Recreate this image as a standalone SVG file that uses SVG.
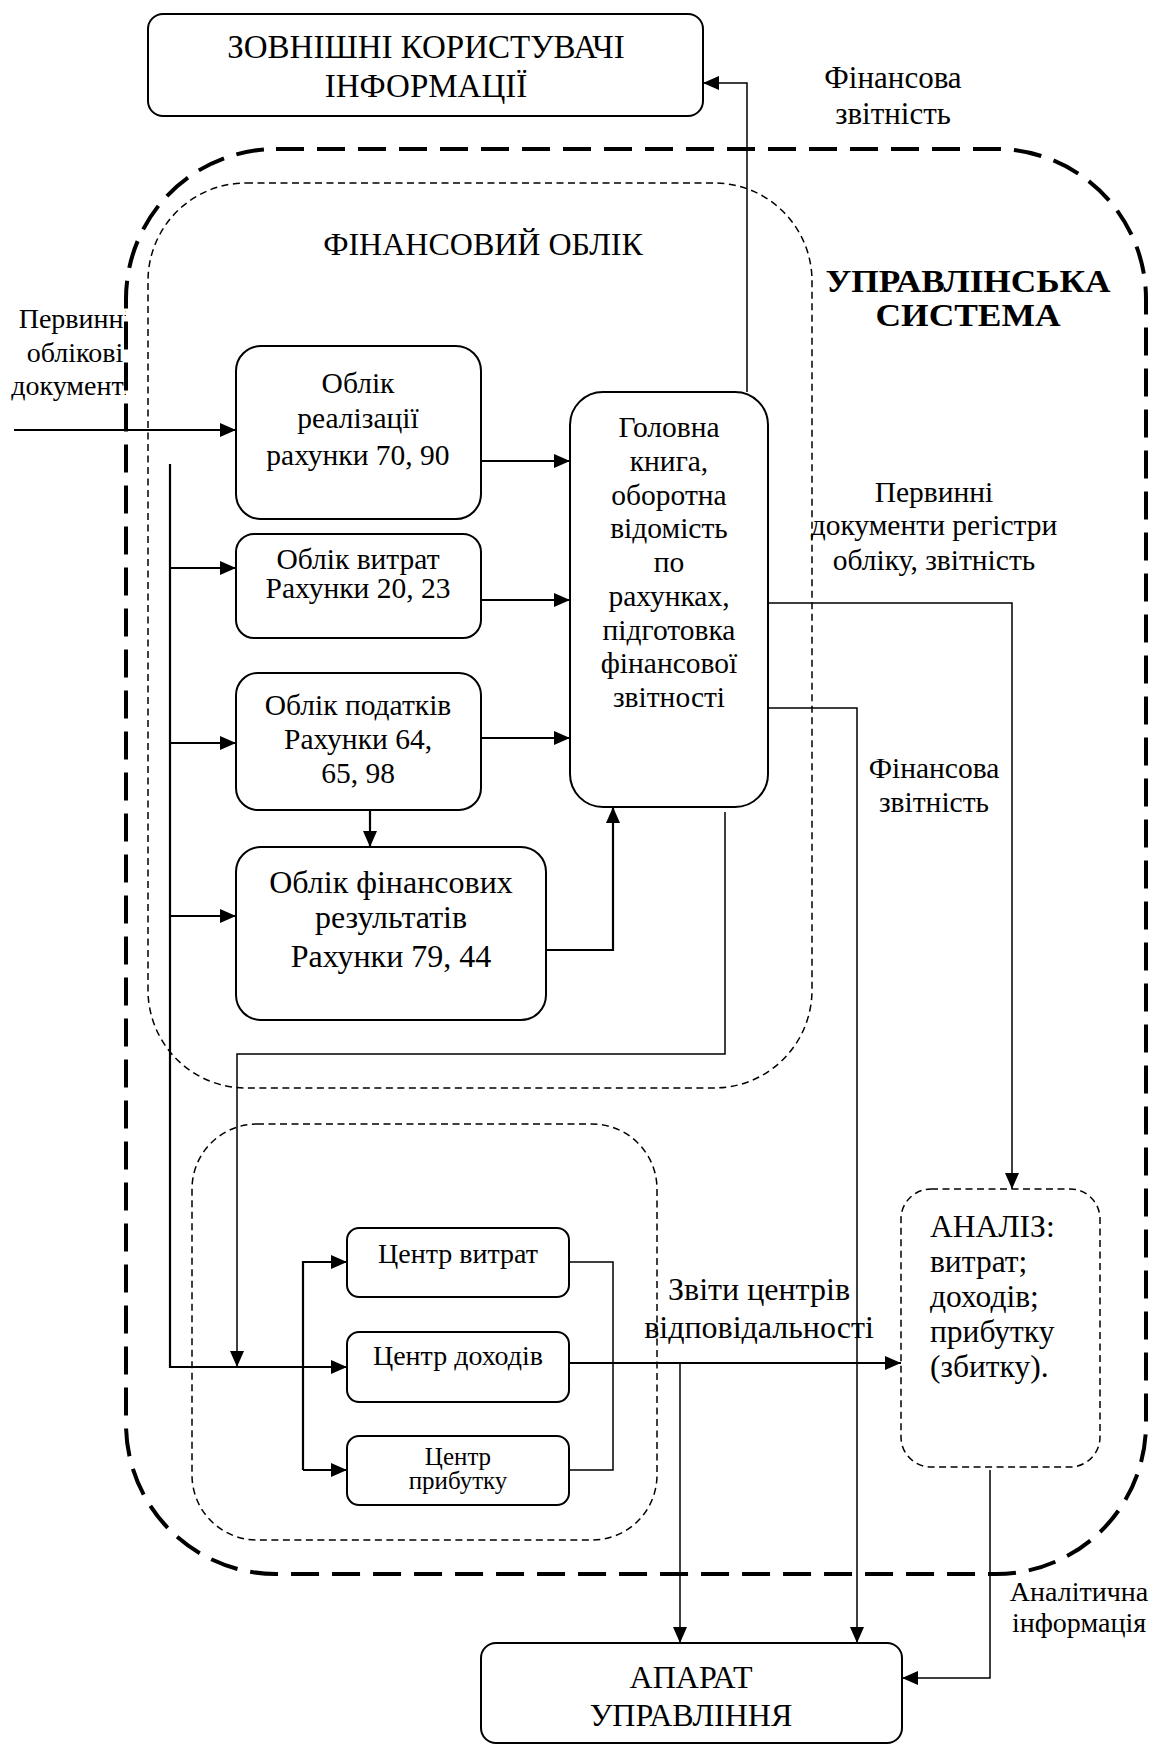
<svg xmlns="http://www.w3.org/2000/svg" width="1154" height="1745" viewBox="0 0 1154 1745">
<defs>
<marker id="ah" markerUnits="userSpaceOnUse" markerWidth="16" markerHeight="14" viewBox="0 0 16 14" refX="16" refY="7" orient="auto">
<path d="M0,0 L16,7 L0,14 z" fill="#000"/>
</marker>
<clipPath id="clipLeft"><rect x="0" y="290" width="126" height="120"/></clipPath>
<style>
text{font-family:"Liberation Serif","Times New Roman",serif;fill:#000;text-anchor:middle}
.box{fill:#fff;stroke:#000;stroke-width:2}
.big{fill:none;stroke:#000;stroke-width:4;stroke-dasharray:28 13}
.dot{fill:none;stroke:#000;stroke-width:1.5;stroke-dasharray:7 4.5}
.c{fill:none;stroke:#000;stroke-width:2.2}
.t{fill:none;stroke:#000;stroke-width:1.5}
.f28{font-size:28px}
.f29{font-size:29.5px}
.f31{font-size:31px}
.left{text-anchor:start}
</style>
</defs>
<rect width="1154" height="1745" fill="#fff"/>

<g id="containers">
<rect class="big" x="126" y="149" width="1020" height="1425" rx="150"/>
<rect class="dot" x="148" y="183" width="664" height="905" rx="98"/>
<rect class="dot" x="192" y="1124" width="465" height="416" rx="65"/>
</g>

<g id="connectors">
<path class="t" d="M747,392 V83 H703" marker-end="url(#ah)"/>
<path class="c" d="M14,430 H236" marker-end="url(#ah)"/>
<path class="c" d="M481,461 H570" marker-end="url(#ah)"/>
<path class="c" d="M481,600 H570" marker-end="url(#ah)"/>
<path class="c" d="M481,738 H570" marker-end="url(#ah)"/>
<path class="c" d="M370,810 V847" marker-end="url(#ah)"/>
<path class="c" d="M546,950 H613 V807" marker-end="url(#ah)"/>
<path class="c" d="M170,464 V1367 H347" marker-end="url(#ah)"/>
<path class="c" d="M170,568 H236" marker-end="url(#ah)"/>
<path class="c" d="M170,743 H236" marker-end="url(#ah)"/>
<path class="c" d="M170,916 H236" marker-end="url(#ah)"/>
<path class="t" d="M725,812 V1054 H237 V1367" marker-end="url(#ah)"/>
<path class="c" d="M303,1470 V1262 H347" marker-end="url(#ah)"/>
<path class="c" d="M303,1470 H347" marker-end="url(#ah)"/>
<path class="t" d="M569,1262 H613 V1470 H569"/>
<path class="c" d="M569,1363 H901" marker-end="url(#ah)"/>
<path class="t" d="M680,1363 V1643" marker-end="url(#ah)"/>
<path class="t" d="M768,603 H1012 V1189" marker-end="url(#ah)"/>
<path class="t" d="M768,708 H857 V1643" marker-end="url(#ah)"/>
<path class="t" d="M990,1470 V1678 H902" marker-end="url(#ah)"/>
</g>

<g id="external-users">
<rect class="box" x="148" y="14" width="555" height="102" rx="15"/>
<text x="426" y="58" font-size="33">ЗОВНІШНІ КОРИСТУВАЧІ</text>
<text x="426" y="97" font-size="33">ІНФОРМАЦІЇ</text>
</g>

<g id="label-fin-report-top">
<text class="f31" x="893" y="88">Фінансова</text>
<text class="f31" x="893" y="124">звітність</text>
</g>

<g id="label-fin-accounting">
<text x="483" y="255" font-size="32">ФІНАНСОВИЙ ОБЛІК</text>
</g>

<g id="label-mgmt-system">
<text x="968" y="292" font-size="32" font-weight="bold" textLength="285" lengthAdjust="spacingAndGlyphs">УПРАВЛІНСЬКА</text>
<text x="968" y="326" font-size="32" font-weight="bold" textLength="185" lengthAdjust="spacingAndGlyphs">СИСТЕМА</text>
</g>

<g id="label-primary-docs" clip-path="url(#clipLeft)">
<text class="f28" x="75" y="328">Первинні</text>
<text class="f28" x="75" y="362">облікові</text>
<text class="f28" x="75" y="395">документи</text>
</g>

<g id="sales">
<rect class="box" x="236" y="346" width="245" height="173" rx="25"/>
<text class="f29" x="358" y="393">Облік</text>
<text class="f29" x="358" y="428">реалізації</text>
<text class="f29" x="358" y="465">рахунки 70, 90</text>
</g>

<g id="costs">
<rect class="box" x="236" y="534" width="245" height="104" rx="18"/>
<text class="f29" x="358" y="569">Облік витрат</text>
<text class="f29" x="358" y="598">Рахунки 20, 23</text>
</g>

<g id="taxes">
<rect class="box" x="236" y="673" width="245" height="137" rx="22"/>
<text class="f29" x="358" y="715">Облік податків</text>
<text class="f29" x="358" y="749">Рахунки 64,</text>
<text class="f29" x="358" y="783">65, 98</text>
</g>

<g id="results">
<rect class="box" x="236" y="847" width="310" height="173" rx="25"/>
<text x="391" y="893" font-size="32">Облік фінансових</text>
<text x="391" y="928" font-size="32">результатів</text>
<text x="391" y="967" font-size="32">Рахунки 79, 44</text>
</g>

<g id="ledger">
<rect class="box" x="570" y="392" width="198" height="415" rx="33"/>
<text class="f29" x="669" y="437">Головна</text>
<text class="f29" x="669" y="471">книга,</text>
<text class="f29" x="669" y="505">оборотна</text>
<text class="f29" x="669" y="538">відомість</text>
<text class="f29" x="669" y="572">по</text>
<text class="f29" x="669" y="606">рахунках,</text>
<text class="f29" x="669" y="640">підготовка</text>
<text class="f29" x="669" y="673">фінансової</text>
<text class="f29" x="669" y="707">звітності</text>
</g>

<g id="label-primary-registers">
<text class="f29" x="934" y="502">Первинні</text>
<text class="f29" x="934" y="535">документи регістри</text>
<text class="f29" x="934" y="570">обліку, звітність</text>
</g>

<g id="label-fin-report-mid">
<text class="f29" x="934" y="778">Фінансова</text>
<text class="f29" x="934" y="812">звітність</text>
</g>

<g id="cost-center">
<rect class="box" x="347" y="1228" width="222" height="69" rx="12"/>
<text class="f28" x="458" y="1263">Центр витрат</text>
</g>

<g id="revenue-center">
<rect class="box" x="347" y="1332" width="222" height="70" rx="12"/>
<text class="f28" x="458" y="1365">Центр доходів</text>
</g>

<g id="profit-center">
<rect class="box" x="347" y="1436" width="222" height="69" rx="12"/>
<text x="458" y="1465" font-size="25">Центр</text>
<text x="458" y="1489" font-size="25">прибутку</text>
</g>

<g id="label-center-reports">
<text x="759" y="1300" font-size="32">Звіти центрів</text>
<text x="759" y="1338" font-size="32">відповідальності</text>
</g>

<g id="analysis">
<rect class="dot" x="901" y="1189" width="199" height="278" rx="30"/>
<text class="left" x="930" y="1237" font-size="31.5">АНАЛІЗ:</text>
<text class="left" x="930" y="1272" font-size="31.5">витрат;</text>
<text class="left" x="930" y="1307" font-size="31.5">доходів;</text>
<text class="left" x="930" y="1342" font-size="31.5">прибутку</text>
<text class="left" x="930" y="1377" font-size="31.5">(збитку).</text>
</g>

<g id="label-analytic-info">
<text x="1079" y="1601" font-size="28">Аналітична</text>
<text x="1079" y="1632" font-size="28">інформація</text>
</g>

<g id="management">
<rect class="box" x="481" y="1643" width="421" height="100" rx="15"/>
<text x="691" y="1688" font-size="32">АПАРАТ</text>
<text x="691" y="1726" font-size="32">УПРАВЛІННЯ</text>
</g>
</svg>
